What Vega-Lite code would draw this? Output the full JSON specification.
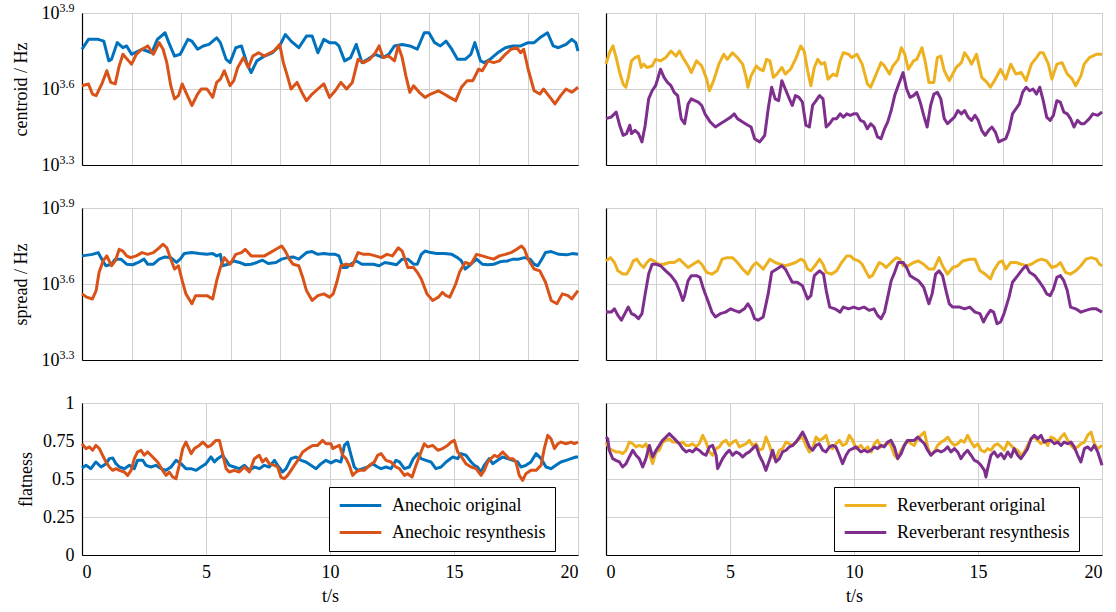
{
"$schema":"https://vega.github.io/schema/vega-lite/v6.json",
"background":"white",
"padding":{"left":11,"top":0,"right":5,"bottom":5},
"columns":2,
"spacing":{"row":43,"column":28},
"bounds":"flush",
"config":{
 "font":"Liberation Serif",
 "view":{"stroke":"#b3b3b3","strokeWidth":1},
 "axis":{"labelFont":"Liberation Serif","titleFont":"Liberation Serif","labelFontSize":18,"titleFontSize":18,"titleFontWeight":"normal","labelColor":"#000","titleColor":"#000","domainColor":"#000","domainWidth":1.2,"gridColor":"#d0d0d0","gridWidth":1,"ticks":false,"labelPadding":8},
 "line":{"strokeWidth":3,"strokeJoin":"round"}
},
"resolve":{"scale":{"color":"independent"},"legend":{"color":"independent"}},
"datasets":{
"cAo":[{"t":0,"v":3.757},{"t":0.26,"v":3.796},{"t":0.65,"v":3.796},{"t":0.88,"v":3.789},{"t":1.08,"v":3.711},{"t":1.19,"v":3.717},{"t":1.42,"v":3.783},{"t":1.65,"v":3.763},{"t":1.8,"v":3.77},{"t":2,"v":3.737},{"t":2.42,"v":3.757},{"t":2.81,"v":3.743},{"t":3.04,"v":3.796},{"t":3.35,"v":3.822},{"t":3.5,"v":3.783},{"t":3.73,"v":3.73},{"t":3.96,"v":3.737},{"t":4.27,"v":3.796},{"t":4.43,"v":3.789},{"t":4.66,"v":3.757},{"t":4.89,"v":3.77},{"t":5.12,"v":3.776},{"t":5.43,"v":3.802},{"t":5.58,"v":3.783},{"t":5.81,"v":3.717},{"t":5.97,"v":3.704},{"t":6.2,"v":3.763},{"t":6.43,"v":3.77},{"t":6.66,"v":3.698},{"t":6.82,"v":3.665},{"t":7.05,"v":3.711},{"t":7.36,"v":3.73},{"t":7.67,"v":3.743},{"t":7.97,"v":3.77},{"t":8.2,"v":3.815},{"t":8.43,"v":3.789},{"t":8.74,"v":3.763},{"t":9.05,"v":3.809},{"t":9.28,"v":3.809},{"t":9.51,"v":3.743},{"t":9.75,"v":3.796},{"t":9.98,"v":3.783},{"t":10.21,"v":3.783},{"t":10.36,"v":3.77},{"t":10.59,"v":3.711},{"t":10.83,"v":3.724},{"t":11.06,"v":3.776},{"t":11.29,"v":3.704},{"t":11.52,"v":3.717},{"t":11.83,"v":3.737},{"t":12.14,"v":3.724},{"t":12.37,"v":3.737},{"t":12.6,"v":3.77},{"t":12.91,"v":3.776},{"t":13.22,"v":3.77},{"t":13.52,"v":3.757},{"t":13.8,"v":3.822},{"t":13.99,"v":3.822},{"t":14.22,"v":3.783},{"t":14.45,"v":3.77},{"t":14.68,"v":3.789},{"t":14.91,"v":3.757},{"t":15.14,"v":3.717},{"t":15.45,"v":3.717},{"t":15.68,"v":3.737},{"t":15.84,"v":3.783},{"t":16.07,"v":3.711},{"t":16.22,"v":3.704},{"t":16.45,"v":3.717},{"t":16.76,"v":3.743},{"t":17.07,"v":3.763},{"t":17.38,"v":3.77},{"t":17.69,"v":3.77},{"t":17.99,"v":3.783},{"t":18.23,"v":3.783},{"t":18.46,"v":3.802},{"t":18.77,"v":3.822},{"t":19,"v":3.77},{"t":19.21,"v":3.763},{"t":19.52,"v":3.776},{"t":19.75,"v":3.796},{"t":19.91,"v":3.783},{"t":20,"v":3.75}],
"cAr":[{"t":0,"v":3.613},{"t":0.26,"v":3.62},{"t":0.42,"v":3.58},{"t":0.57,"v":3.574},{"t":0.8,"v":3.62},{"t":1,"v":3.672},{"t":1.16,"v":3.626},{"t":1.34,"v":3.62},{"t":1.5,"v":3.691},{"t":1.65,"v":3.737},{"t":1.88,"v":3.711},{"t":2,"v":3.698},{"t":2.19,"v":3.737},{"t":2.42,"v":3.757},{"t":2.65,"v":3.77},{"t":2.88,"v":3.737},{"t":3.11,"v":3.783},{"t":3.27,"v":3.757},{"t":3.42,"v":3.704},{"t":3.58,"v":3.613},{"t":3.73,"v":3.561},{"t":3.89,"v":3.574},{"t":4.04,"v":3.62},{"t":4.19,"v":3.587},{"t":4.43,"v":3.535},{"t":4.66,"v":3.58},{"t":4.81,"v":3.6},{"t":5.04,"v":3.6},{"t":5.27,"v":3.567},{"t":5.43,"v":3.626},{"t":5.58,"v":3.639},{"t":5.74,"v":3.672},{"t":5.97,"v":3.613},{"t":6.12,"v":3.633},{"t":6.28,"v":3.685},{"t":6.51,"v":3.724},{"t":6.71,"v":3.685},{"t":6.89,"v":3.73},{"t":7.12,"v":3.743},{"t":7.35,"v":3.73},{"t":7.59,"v":3.743},{"t":7.74,"v":3.75},{"t":7.97,"v":3.776},{"t":8.12,"v":3.704},{"t":8.28,"v":3.652},{"t":8.43,"v":3.6},{"t":8.67,"v":3.626},{"t":8.9,"v":3.58},{"t":9.05,"v":3.554},{"t":9.28,"v":3.58},{"t":9.51,"v":3.6},{"t":9.75,"v":3.62},{"t":9.98,"v":3.567},{"t":10.21,"v":3.593},{"t":10.44,"v":3.626},{"t":10.67,"v":3.6},{"t":10.9,"v":3.626},{"t":11.13,"v":3.717},{"t":11.36,"v":3.704},{"t":11.6,"v":3.717},{"t":11.83,"v":3.743},{"t":11.98,"v":3.77},{"t":12.14,"v":3.724},{"t":12.37,"v":3.73},{"t":12.6,"v":3.711},{"t":12.75,"v":3.77},{"t":12.91,"v":3.724},{"t":13.06,"v":3.652},{"t":13.22,"v":3.587},{"t":13.37,"v":3.613},{"t":13.6,"v":3.587},{"t":13.83,"v":3.567},{"t":14.06,"v":3.58},{"t":14.37,"v":3.593},{"t":14.6,"v":3.58},{"t":14.83,"v":3.567},{"t":15.07,"v":3.554},{"t":15.3,"v":3.607},{"t":15.53,"v":3.633},{"t":15.76,"v":3.633},{"t":15.99,"v":3.678},{"t":16.14,"v":3.672},{"t":16.37,"v":3.711},{"t":16.6,"v":3.704},{"t":16.83,"v":3.711},{"t":17.07,"v":3.737},{"t":17.3,"v":3.757},{"t":17.53,"v":3.763},{"t":17.69,"v":3.743},{"t":17.81,"v":3.757},{"t":17.99,"v":3.678},{"t":18.23,"v":3.593},{"t":18.46,"v":3.58},{"t":18.61,"v":3.6},{"t":18.77,"v":3.58},{"t":18.92,"v":3.561},{"t":19.07,"v":3.541},{"t":19.3,"v":3.574},{"t":19.52,"v":3.6},{"t":19.75,"v":3.587},{"t":20,"v":3.607}],
"cRo":[{"t":0,"v":3.698},{"t":0.14,"v":3.743},{"t":0.28,"v":3.77},{"t":0.41,"v":3.724},{"t":0.55,"v":3.665},{"t":0.69,"v":3.62},{"t":0.8,"v":3.607},{"t":0.9,"v":3.646},{"t":1.03,"v":3.711},{"t":1.17,"v":3.724},{"t":1.31,"v":3.73},{"t":1.42,"v":3.685},{"t":1.52,"v":3.698},{"t":1.65,"v":3.685},{"t":1.86,"v":3.691},{"t":2,"v":3.717},{"t":2.2,"v":3.711},{"t":2.41,"v":3.724},{"t":2.62,"v":3.75},{"t":2.82,"v":3.73},{"t":2.96,"v":3.75},{"t":3.1,"v":3.724},{"t":3.31,"v":3.691},{"t":3.44,"v":3.665},{"t":3.65,"v":3.711},{"t":3.86,"v":3.691},{"t":4.06,"v":3.639},{"t":4.17,"v":3.593},{"t":4.34,"v":3.633},{"t":4.55,"v":3.698},{"t":4.75,"v":3.737},{"t":4.89,"v":3.717},{"t":5.1,"v":3.743},{"t":5.3,"v":3.724},{"t":5.51,"v":3.698},{"t":5.65,"v":3.646},{"t":5.72,"v":3.607},{"t":5.85,"v":3.652},{"t":6.06,"v":3.691},{"t":6.2,"v":3.678},{"t":6.34,"v":3.672},{"t":6.47,"v":3.717},{"t":6.61,"v":3.711},{"t":6.75,"v":3.646},{"t":6.89,"v":3.659},{"t":7.09,"v":3.685},{"t":7.23,"v":3.659},{"t":7.44,"v":3.678},{"t":7.64,"v":3.717},{"t":7.85,"v":3.77},{"t":7.99,"v":3.75},{"t":8.13,"v":3.672},{"t":8.26,"v":3.613},{"t":8.4,"v":3.685},{"t":8.54,"v":3.717},{"t":8.68,"v":3.698},{"t":8.82,"v":3.704},{"t":8.95,"v":3.639},{"t":9.16,"v":3.659},{"t":9.3,"v":3.652},{"t":9.44,"v":3.711},{"t":9.57,"v":3.743},{"t":9.78,"v":3.737},{"t":9.92,"v":3.724},{"t":10.12,"v":3.737},{"t":10.33,"v":3.698},{"t":10.54,"v":3.62},{"t":10.67,"v":3.607},{"t":10.81,"v":3.639},{"t":10.95,"v":3.672},{"t":11.09,"v":3.704},{"t":11.23,"v":3.691},{"t":11.43,"v":3.659},{"t":11.57,"v":3.691},{"t":11.78,"v":3.717},{"t":11.91,"v":3.763},{"t":12.05,"v":3.737},{"t":12.19,"v":3.678},{"t":12.4,"v":3.711},{"t":12.53,"v":3.717},{"t":12.74,"v":3.763},{"t":12.88,"v":3.704},{"t":13.02,"v":3.626},{"t":13.22,"v":3.626},{"t":13.36,"v":3.724},{"t":13.5,"v":3.73},{"t":13.64,"v":3.672},{"t":13.84,"v":3.633},{"t":13.98,"v":3.659},{"t":14.12,"v":3.685},{"t":14.33,"v":3.704},{"t":14.46,"v":3.743},{"t":14.6,"v":3.724},{"t":14.74,"v":3.698},{"t":14.94,"v":3.737},{"t":15.15,"v":3.646},{"t":15.36,"v":3.626},{"t":15.5,"v":3.607},{"t":15.7,"v":3.639},{"t":15.91,"v":3.678},{"t":16.12,"v":3.639},{"t":16.32,"v":3.698},{"t":16.53,"v":3.659},{"t":16.74,"v":3.665},{"t":16.94,"v":3.633},{"t":17.15,"v":3.698},{"t":17.36,"v":3.724},{"t":17.49,"v":3.743},{"t":17.63,"v":3.743},{"t":17.84,"v":3.698},{"t":17.98,"v":3.639},{"t":18.18,"v":3.698},{"t":18.39,"v":3.704},{"t":18.6,"v":3.659},{"t":18.8,"v":3.639},{"t":18.94,"v":3.613},{"t":19.15,"v":3.652},{"t":19.28,"v":3.698},{"t":19.49,"v":3.724},{"t":19.77,"v":3.737},{"t":20,"v":3.737}],
"cRr":[{"t":0,"v":3.483},{"t":0.21,"v":3.489},{"t":0.41,"v":3.509},{"t":0.55,"v":3.457},{"t":0.69,"v":3.417},{"t":0.83,"v":3.424},{"t":0.96,"v":3.457},{"t":1.03,"v":3.424},{"t":1.17,"v":3.437},{"t":1.31,"v":3.424},{"t":1.45,"v":3.391},{"t":1.58,"v":3.457},{"t":1.72,"v":3.561},{"t":1.86,"v":3.593},{"t":2,"v":3.613},{"t":2.2,"v":3.678},{"t":2.34,"v":3.646},{"t":2.48,"v":3.626},{"t":2.62,"v":3.613},{"t":2.75,"v":3.587},{"t":2.89,"v":3.574},{"t":3.03,"v":3.483},{"t":3.17,"v":3.463},{"t":3.31,"v":3.541},{"t":3.44,"v":3.561},{"t":3.58,"v":3.554},{"t":3.72,"v":3.548},{"t":3.86,"v":3.535},{"t":3.99,"v":3.502},{"t":4.2,"v":3.47},{"t":4.41,"v":3.45},{"t":4.61,"v":3.463},{"t":4.82,"v":3.476},{"t":5.03,"v":3.489},{"t":5.17,"v":3.502},{"t":5.3,"v":3.483},{"t":5.51,"v":3.47},{"t":5.72,"v":3.457},{"t":5.85,"v":3.45},{"t":5.99,"v":3.404},{"t":6.2,"v":3.391},{"t":6.4,"v":3.417},{"t":6.54,"v":3.522},{"t":6.68,"v":3.607},{"t":6.82,"v":3.561},{"t":6.96,"v":3.554},{"t":7.09,"v":3.633},{"t":7.23,"v":3.6},{"t":7.37,"v":3.567},{"t":7.51,"v":3.535},{"t":7.64,"v":3.574},{"t":7.78,"v":3.567},{"t":7.92,"v":3.548},{"t":8.06,"v":3.457},{"t":8.2,"v":3.45},{"t":8.33,"v":3.535},{"t":8.47,"v":3.554},{"t":8.61,"v":3.574},{"t":8.75,"v":3.561},{"t":8.88,"v":3.45},{"t":9.02,"v":3.463},{"t":9.16,"v":3.483},{"t":9.3,"v":3.483},{"t":9.44,"v":3.502},{"t":9.57,"v":3.489},{"t":9.71,"v":3.502},{"t":9.85,"v":3.496},{"t":9.99,"v":3.502},{"t":10.12,"v":3.502},{"t":10.26,"v":3.476},{"t":10.4,"v":3.47},{"t":10.54,"v":3.443},{"t":10.67,"v":3.463},{"t":10.81,"v":3.45},{"t":10.95,"v":3.411},{"t":11.09,"v":3.404},{"t":11.23,"v":3.443},{"t":11.36,"v":3.47},{"t":11.5,"v":3.515},{"t":11.64,"v":3.574},{"t":11.78,"v":3.613},{"t":11.98,"v":3.665},{"t":12.12,"v":3.6},{"t":12.26,"v":3.567},{"t":12.4,"v":3.574},{"t":12.53,"v":3.587},{"t":12.67,"v":3.548},{"t":12.81,"v":3.496},{"t":12.95,"v":3.45},{"t":13.09,"v":3.535},{"t":13.22,"v":3.58},{"t":13.36,"v":3.587},{"t":13.5,"v":3.561},{"t":13.64,"v":3.483},{"t":13.77,"v":3.463},{"t":13.91,"v":3.476},{"t":14.05,"v":3.489},{"t":14.19,"v":3.515},{"t":14.33,"v":3.502},{"t":14.46,"v":3.515},{"t":14.6,"v":3.489},{"t":14.74,"v":3.476},{"t":14.88,"v":3.496},{"t":15.01,"v":3.476},{"t":15.15,"v":3.437},{"t":15.29,"v":3.417},{"t":15.43,"v":3.437},{"t":15.56,"v":3.45},{"t":15.7,"v":3.43},{"t":15.84,"v":3.391},{"t":15.98,"v":3.398},{"t":16.12,"v":3.404},{"t":16.25,"v":3.437},{"t":16.39,"v":3.502},{"t":16.53,"v":3.522},{"t":16.67,"v":3.541},{"t":16.8,"v":3.587},{"t":16.94,"v":3.607},{"t":17.08,"v":3.593},{"t":17.22,"v":3.6},{"t":17.36,"v":3.58},{"t":17.49,"v":3.607},{"t":17.63,"v":3.554},{"t":17.77,"v":3.489},{"t":17.91,"v":3.476},{"t":18.04,"v":3.496},{"t":18.18,"v":3.554},{"t":18.32,"v":3.548},{"t":18.46,"v":3.509},{"t":18.6,"v":3.502},{"t":18.73,"v":3.483},{"t":18.87,"v":3.45},{"t":19.01,"v":3.476},{"t":19.15,"v":3.463},{"t":19.28,"v":3.463},{"t":19.49,"v":3.483},{"t":19.63,"v":3.502},{"t":19.83,"v":3.496},{"t":20,"v":3.509}],
"sAo":[{"t":0,"v":3.711},{"t":0.42,"v":3.717},{"t":0.65,"v":3.724},{"t":0.8,"v":3.698},{"t":0.96,"v":3.672},{"t":1.19,"v":3.678},{"t":1.34,"v":3.698},{"t":1.57,"v":3.698},{"t":1.8,"v":3.678},{"t":2.04,"v":3.676},{"t":2.27,"v":3.685},{"t":2.5,"v":3.698},{"t":2.65,"v":3.678},{"t":2.88,"v":3.678},{"t":3.11,"v":3.698},{"t":3.35,"v":3.707},{"t":3.58,"v":3.704},{"t":3.81,"v":3.685},{"t":3.96,"v":3.698},{"t":4.12,"v":3.72},{"t":4.43,"v":3.724},{"t":4.73,"v":3.72},{"t":5.04,"v":3.717},{"t":5.27,"v":3.72},{"t":5.43,"v":3.711},{"t":5.58,"v":3.717},{"t":5.66,"v":3.672},{"t":5.89,"v":3.678},{"t":6.12,"v":3.691},{"t":6.35,"v":3.685},{"t":6.58,"v":3.676},{"t":6.82,"v":3.678},{"t":7.05,"v":3.685},{"t":7.28,"v":3.694},{"t":7.51,"v":3.681},{"t":7.82,"v":3.685},{"t":8.05,"v":3.698},{"t":8.28,"v":3.704},{"t":8.51,"v":3.707},{"t":8.74,"v":3.698},{"t":9.05,"v":3.724},{"t":9.28,"v":3.728},{"t":9.51,"v":3.717},{"t":9.75,"v":3.72},{"t":9.98,"v":3.717},{"t":10.21,"v":3.717},{"t":10.36,"v":3.711},{"t":10.52,"v":3.665},{"t":10.67,"v":3.665},{"t":10.83,"v":3.678},{"t":11.06,"v":3.691},{"t":11.29,"v":3.678},{"t":11.52,"v":3.678},{"t":11.75,"v":3.678},{"t":11.98,"v":3.672},{"t":12.21,"v":3.685},{"t":12.44,"v":3.681},{"t":12.68,"v":3.676},{"t":12.91,"v":3.698},{"t":13.14,"v":3.698},{"t":13.37,"v":3.678},{"t":13.52,"v":3.678},{"t":13.68,"v":3.717},{"t":13.83,"v":3.73},{"t":14.06,"v":3.724},{"t":14.3,"v":3.72},{"t":14.6,"v":3.72},{"t":14.91,"v":3.717},{"t":15.14,"v":3.704},{"t":15.3,"v":3.691},{"t":15.45,"v":3.659},{"t":15.68,"v":3.678},{"t":15.91,"v":3.698},{"t":16.14,"v":3.678},{"t":16.37,"v":3.676},{"t":16.6,"v":3.678},{"t":16.91,"v":3.689},{"t":17.15,"v":3.691},{"t":17.38,"v":3.698},{"t":17.61,"v":3.698},{"t":17.84,"v":3.704},{"t":18.07,"v":3.698},{"t":18.23,"v":3.678},{"t":18.38,"v":3.672},{"t":18.54,"v":3.698},{"t":18.69,"v":3.724},{"t":18.92,"v":3.728},{"t":19.23,"v":3.717},{"t":19.54,"v":3.715},{"t":19.77,"v":3.72},{"t":20,"v":3.717}],
"sAr":[{"t":0,"v":3.561},{"t":0.19,"v":3.548},{"t":0.42,"v":3.541},{"t":0.57,"v":3.574},{"t":0.69,"v":3.646},{"t":0.85,"v":3.691},{"t":1,"v":3.711},{"t":1.19,"v":3.672},{"t":1.34,"v":3.691},{"t":1.5,"v":3.737},{"t":1.65,"v":3.73},{"t":1.8,"v":3.711},{"t":1.96,"v":3.704},{"t":2.19,"v":3.711},{"t":2.42,"v":3.724},{"t":2.65,"v":3.717},{"t":2.88,"v":3.724},{"t":3.11,"v":3.743},{"t":3.27,"v":3.757},{"t":3.42,"v":3.743},{"t":3.58,"v":3.698},{"t":3.73,"v":3.659},{"t":3.89,"v":3.672},{"t":4.04,"v":3.613},{"t":4.19,"v":3.561},{"t":4.43,"v":3.522},{"t":4.58,"v":3.554},{"t":4.81,"v":3.554},{"t":5.04,"v":3.554},{"t":5.27,"v":3.541},{"t":5.43,"v":3.613},{"t":5.58,"v":3.665},{"t":5.74,"v":3.704},{"t":5.97,"v":3.678},{"t":6.2,"v":3.717},{"t":6.43,"v":3.724},{"t":6.58,"v":3.737},{"t":6.82,"v":3.711},{"t":7.05,"v":3.711},{"t":7.36,"v":3.711},{"t":7.59,"v":3.724},{"t":7.82,"v":3.737},{"t":8.05,"v":3.75},{"t":8.2,"v":3.73},{"t":8.36,"v":3.698},{"t":8.51,"v":3.678},{"t":8.74,"v":3.672},{"t":8.9,"v":3.626},{"t":9.05,"v":3.574},{"t":9.28,"v":3.535},{"t":9.51,"v":3.554},{"t":9.75,"v":3.561},{"t":9.98,"v":3.548},{"t":10.13,"v":3.561},{"t":10.29,"v":3.613},{"t":10.44,"v":3.672},{"t":10.67,"v":3.678},{"t":10.9,"v":3.672},{"t":11.13,"v":3.724},{"t":11.36,"v":3.717},{"t":11.6,"v":3.717},{"t":11.83,"v":3.711},{"t":12.06,"v":3.704},{"t":12.29,"v":3.717},{"t":12.52,"v":3.711},{"t":12.75,"v":3.743},{"t":12.91,"v":3.73},{"t":13.14,"v":3.665},{"t":13.37,"v":3.665},{"t":13.52,"v":3.646},{"t":13.68,"v":3.62},{"t":13.91,"v":3.561},{"t":14.14,"v":3.535},{"t":14.37,"v":3.548},{"t":14.53,"v":3.567},{"t":14.68,"v":3.554},{"t":14.83,"v":3.548},{"t":15.07,"v":3.6},{"t":15.22,"v":3.646},{"t":15.45,"v":3.685},{"t":15.68,"v":3.678},{"t":15.91,"v":3.717},{"t":16.14,"v":3.711},{"t":16.37,"v":3.704},{"t":16.6,"v":3.698},{"t":16.83,"v":3.711},{"t":17.07,"v":3.717},{"t":17.3,"v":3.724},{"t":17.53,"v":3.737},{"t":17.72,"v":3.75},{"t":17.84,"v":3.737},{"t":17.99,"v":3.698},{"t":18.23,"v":3.659},{"t":18.46,"v":3.652},{"t":18.69,"v":3.607},{"t":18.92,"v":3.535},{"t":19.15,"v":3.522},{"t":19.37,"v":3.561},{"t":19.6,"v":3.554},{"t":19.75,"v":3.541},{"t":20,"v":3.574}],
"sRo":[{"t":0,"v":3.691},{"t":0.18,"v":3.704},{"t":0.34,"v":3.685},{"t":0.48,"v":3.652},{"t":0.69,"v":3.639},{"t":0.83,"v":3.639},{"t":0.96,"v":3.659},{"t":1.1,"v":3.691},{"t":1.24,"v":3.698},{"t":1.38,"v":3.678},{"t":1.52,"v":3.665},{"t":1.65,"v":3.685},{"t":1.79,"v":3.698},{"t":1.93,"v":3.691},{"t":2.13,"v":3.678},{"t":2.34,"v":3.678},{"t":2.55,"v":3.685},{"t":2.75,"v":3.685},{"t":2.96,"v":3.698},{"t":3.1,"v":3.685},{"t":3.31,"v":3.665},{"t":3.51,"v":3.678},{"t":3.72,"v":3.691},{"t":3.86,"v":3.678},{"t":4.06,"v":3.646},{"t":4.27,"v":3.639},{"t":4.48,"v":3.652},{"t":4.68,"v":3.698},{"t":4.89,"v":3.704},{"t":5.1,"v":3.704},{"t":5.3,"v":3.685},{"t":5.51,"v":3.659},{"t":5.72,"v":3.639},{"t":5.92,"v":3.672},{"t":6.06,"v":3.685},{"t":6.2,"v":3.672},{"t":6.34,"v":3.659},{"t":6.47,"v":3.678},{"t":6.61,"v":3.698},{"t":6.82,"v":3.685},{"t":7.02,"v":3.678},{"t":7.23,"v":3.672},{"t":7.44,"v":3.678},{"t":7.64,"v":3.685},{"t":7.85,"v":3.698},{"t":7.99,"v":3.691},{"t":8.13,"v":3.659},{"t":8.26,"v":3.652},{"t":8.47,"v":3.678},{"t":8.61,"v":3.698},{"t":8.75,"v":3.678},{"t":8.88,"v":3.646},{"t":9.09,"v":3.639},{"t":9.3,"v":3.652},{"t":9.5,"v":3.685},{"t":9.71,"v":3.711},{"t":9.85,"v":3.711},{"t":9.99,"v":3.698},{"t":10.19,"v":3.691},{"t":10.33,"v":3.678},{"t":10.47,"v":3.652},{"t":10.61,"v":3.626},{"t":10.74,"v":3.633},{"t":10.88,"v":3.659},{"t":11.02,"v":3.685},{"t":11.16,"v":3.678},{"t":11.29,"v":3.665},{"t":11.5,"v":3.685},{"t":11.71,"v":3.704},{"t":11.85,"v":3.698},{"t":11.98,"v":3.672},{"t":12.19,"v":3.672},{"t":12.4,"v":3.685},{"t":12.6,"v":3.691},{"t":12.81,"v":3.678},{"t":13.02,"v":3.659},{"t":13.22,"v":3.659},{"t":13.43,"v":3.704},{"t":13.57,"v":3.672},{"t":13.77,"v":3.639},{"t":13.98,"v":3.665},{"t":14.19,"v":3.672},{"t":14.39,"v":3.691},{"t":14.67,"v":3.698},{"t":14.88,"v":3.698},{"t":15.08,"v":3.652},{"t":15.29,"v":3.639},{"t":15.5,"v":3.62},{"t":15.63,"v":3.652},{"t":15.84,"v":3.685},{"t":15.98,"v":3.691},{"t":16.12,"v":3.659},{"t":16.32,"v":3.685},{"t":16.53,"v":3.685},{"t":16.74,"v":3.678},{"t":16.94,"v":3.672},{"t":17.15,"v":3.678},{"t":17.36,"v":3.691},{"t":17.56,"v":3.698},{"t":17.77,"v":3.691},{"t":17.98,"v":3.665},{"t":18.18,"v":3.672},{"t":18.32,"v":3.685},{"t":18.53,"v":3.646},{"t":18.73,"v":3.639},{"t":18.94,"v":3.652},{"t":19.15,"v":3.672},{"t":19.35,"v":3.698},{"t":19.56,"v":3.704},{"t":19.77,"v":3.698},{"t":19.9,"v":3.678},{"t":20,"v":3.672}],
"sRr":[{"t":0,"v":3.489},{"t":0.21,"v":3.489},{"t":0.34,"v":3.502},{"t":0.48,"v":3.476},{"t":0.62,"v":3.457},{"t":0.76,"v":3.483},{"t":0.9,"v":3.509},{"t":1.03,"v":3.483},{"t":1.17,"v":3.476},{"t":1.31,"v":3.463},{"t":1.45,"v":3.483},{"t":1.58,"v":3.561},{"t":1.72,"v":3.639},{"t":1.86,"v":3.678},{"t":2.02,"v":3.678},{"t":2.2,"v":3.672},{"t":2.41,"v":3.652},{"t":2.62,"v":3.633},{"t":2.82,"v":3.607},{"t":2.96,"v":3.574},{"t":3.1,"v":3.535},{"t":3.17,"v":3.554},{"t":3.31,"v":3.613},{"t":3.44,"v":3.633},{"t":3.65,"v":3.633},{"t":3.79,"v":3.626},{"t":3.93,"v":3.58},{"t":4.13,"v":3.528},{"t":4.27,"v":3.489},{"t":4.41,"v":3.47},{"t":4.61,"v":3.483},{"t":4.82,"v":3.489},{"t":5.03,"v":3.502},{"t":5.17,"v":3.496},{"t":5.37,"v":3.489},{"t":5.58,"v":3.502},{"t":5.72,"v":3.522},{"t":5.85,"v":3.502},{"t":5.99,"v":3.463},{"t":6.13,"v":3.457},{"t":6.34,"v":3.47},{"t":6.54,"v":3.561},{"t":6.68,"v":3.646},{"t":6.89,"v":3.659},{"t":7.09,"v":3.672},{"t":7.23,"v":3.659},{"t":7.37,"v":3.633},{"t":7.51,"v":3.607},{"t":7.71,"v":3.607},{"t":7.92,"v":3.593},{"t":8.13,"v":3.541},{"t":8.26,"v":3.554},{"t":8.4,"v":3.633},{"t":8.61,"v":3.652},{"t":8.77,"v":3.639},{"t":8.88,"v":3.574},{"t":9.02,"v":3.509},{"t":9.23,"v":3.502},{"t":9.44,"v":3.489},{"t":9.57,"v":3.509},{"t":9.78,"v":3.502},{"t":9.99,"v":3.509},{"t":10.19,"v":3.502},{"t":10.4,"v":3.509},{"t":10.61,"v":3.496},{"t":10.81,"v":3.502},{"t":10.95,"v":3.476},{"t":11.09,"v":3.463},{"t":11.23,"v":3.489},{"t":11.36,"v":3.548},{"t":11.5,"v":3.613},{"t":11.64,"v":3.646},{"t":11.78,"v":3.685},{"t":11.98,"v":3.685},{"t":12.12,"v":3.665},{"t":12.26,"v":3.633},{"t":12.47,"v":3.62},{"t":12.6,"v":3.613},{"t":12.81,"v":3.587},{"t":13.02,"v":3.522},{"t":13.15,"v":3.561},{"t":13.29,"v":3.639},{"t":13.43,"v":3.652},{"t":13.57,"v":3.633},{"t":13.71,"v":3.574},{"t":13.84,"v":3.522},{"t":13.98,"v":3.509},{"t":14.26,"v":3.509},{"t":14.46,"v":3.502},{"t":14.67,"v":3.509},{"t":14.88,"v":3.489},{"t":15.08,"v":3.483},{"t":15.22,"v":3.45},{"t":15.36,"v":3.476},{"t":15.5,"v":3.496},{"t":15.63,"v":3.489},{"t":15.77,"v":3.443},{"t":15.91,"v":3.45},{"t":16.05,"v":3.483},{"t":16.25,"v":3.548},{"t":16.39,"v":3.607},{"t":16.6,"v":3.633},{"t":16.8,"v":3.659},{"t":16.94,"v":3.672},{"t":17.08,"v":3.646},{"t":17.29,"v":3.633},{"t":17.49,"v":3.607},{"t":17.63,"v":3.587},{"t":17.77,"v":3.561},{"t":17.91,"v":3.554},{"t":18.04,"v":3.58},{"t":18.18,"v":3.626},{"t":18.32,"v":3.633},{"t":18.46,"v":3.613},{"t":18.6,"v":3.574},{"t":18.73,"v":3.509},{"t":18.94,"v":3.502},{"t":19.15,"v":3.489},{"t":19.35,"v":3.496},{"t":19.56,"v":3.502},{"t":19.77,"v":3.502},{"t":20,"v":3.489}],
"fAo":[{"t":0,"v":0.572},{"t":0.16,"v":0.59},{"t":0.36,"v":0.568},{"t":0.56,"v":0.612},{"t":0.77,"v":0.579},{"t":0.97,"v":0.601},{"t":1.1,"v":0.634},{"t":1.24,"v":0.638},{"t":1.37,"v":0.601},{"t":1.51,"v":0.579},{"t":1.71,"v":0.568},{"t":1.91,"v":0.59},{"t":2.11,"v":0.568},{"t":2.24,"v":0.623},{"t":2.45,"v":0.623},{"t":2.58,"v":0.59},{"t":2.78,"v":0.579},{"t":2.98,"v":0.59},{"t":3.19,"v":0.568},{"t":3.39,"v":0.557},{"t":3.59,"v":0.579},{"t":3.79,"v":0.623},{"t":3.99,"v":0.601},{"t":4.19,"v":0.568},{"t":4.4,"v":0.568},{"t":4.6,"v":0.557},{"t":4.8,"v":0.579},{"t":5,"v":0.601},{"t":5.2,"v":0.645},{"t":5.34,"v":0.612},{"t":5.47,"v":0.634},{"t":5.67,"v":0.656},{"t":5.81,"v":0.623},{"t":5.94,"v":0.59},{"t":6.14,"v":0.579},{"t":6.34,"v":0.568},{"t":6.55,"v":0.59},{"t":6.75,"v":0.557},{"t":6.95,"v":0.579},{"t":7.15,"v":0.568},{"t":7.35,"v":0.59},{"t":7.55,"v":0.579},{"t":7.76,"v":0.623},{"t":7.89,"v":0.59},{"t":8.09,"v":0.546},{"t":8.23,"v":0.568},{"t":8.43,"v":0.634},{"t":8.63,"v":0.645},{"t":8.83,"v":0.623},{"t":9.03,"v":0.612},{"t":9.23,"v":0.59},{"t":9.44,"v":0.568},{"t":9.64,"v":0.601},{"t":9.84,"v":0.623},{"t":10.04,"v":0.606},{"t":10.24,"v":0.623},{"t":10.44,"v":0.612},{"t":10.58,"v":0.721},{"t":10.71,"v":0.743},{"t":10.85,"v":0.656},{"t":10.98,"v":0.579},{"t":11.12,"v":0.557},{"t":11.32,"v":0.568},{"t":11.52,"v":0.579},{"t":11.72,"v":0.601},{"t":11.92,"v":0.579},{"t":12.06,"v":0.568},{"t":12.26,"v":0.579},{"t":12.46,"v":0.568},{"t":12.66,"v":0.623},{"t":12.8,"v":0.612},{"t":13,"v":0.568},{"t":13.2,"v":0.579},{"t":13.36,"v":0.634},{"t":13.54,"v":0.667},{"t":13.67,"v":0.634},{"t":13.87,"v":0.623},{"t":14.07,"v":0.612},{"t":14.27,"v":0.568},{"t":14.48,"v":0.579},{"t":14.68,"v":0.612},{"t":14.95,"v":0.645},{"t":15.15,"v":0.634},{"t":15.28,"v":0.667},{"t":15.48,"v":0.656},{"t":15.69,"v":0.612},{"t":15.82,"v":0.59},{"t":15.95,"v":0.579},{"t":16.09,"v":0.546},{"t":16.22,"v":0.59},{"t":16.42,"v":0.634},{"t":16.56,"v":0.601},{"t":16.76,"v":0.623},{"t":16.96,"v":0.645},{"t":17.16,"v":0.634},{"t":17.37,"v":0.623},{"t":17.57,"v":0.612},{"t":17.7,"v":0.579},{"t":17.9,"v":0.59},{"t":18.1,"v":0.612},{"t":18.31,"v":0.667},{"t":18.51,"v":0.634},{"t":18.71,"v":0.579},{"t":18.91,"v":0.568},{"t":19.11,"v":0.59},{"t":19.31,"v":0.612},{"t":19.52,"v":0.623},{"t":19.72,"v":0.634},{"t":19.92,"v":0.645},{"t":20,"v":0.645}],
"fAr":[{"t":0,"v":0.732},{"t":0.16,"v":0.7},{"t":0.3,"v":0.711},{"t":0.43,"v":0.689},{"t":0.56,"v":0.721},{"t":0.7,"v":0.7},{"t":0.83,"v":0.656},{"t":0.97,"v":0.612},{"t":1.1,"v":0.579},{"t":1.24,"v":0.557},{"t":1.37,"v":0.568},{"t":1.51,"v":0.557},{"t":1.71,"v":0.546},{"t":1.84,"v":0.524},{"t":1.98,"v":0.557},{"t":2.11,"v":0.634},{"t":2.24,"v":0.678},{"t":2.38,"v":0.689},{"t":2.51,"v":0.656},{"t":2.65,"v":0.678},{"t":2.85,"v":0.645},{"t":3.05,"v":0.612},{"t":3.25,"v":0.557},{"t":3.39,"v":0.524},{"t":3.52,"v":0.546},{"t":3.66,"v":0.513},{"t":3.79,"v":0.502},{"t":3.92,"v":0.59},{"t":4.06,"v":0.7},{"t":4.19,"v":0.743},{"t":4.4,"v":0.667},{"t":4.53,"v":0.7},{"t":4.73,"v":0.721},{"t":4.87,"v":0.743},{"t":5.07,"v":0.711},{"t":5.2,"v":0.721},{"t":5.4,"v":0.754},{"t":5.54,"v":0.754},{"t":5.67,"v":0.667},{"t":5.81,"v":0.568},{"t":5.94,"v":0.546},{"t":6.14,"v":0.557},{"t":6.34,"v":0.546},{"t":6.55,"v":0.579},{"t":6.75,"v":0.546},{"t":6.95,"v":0.634},{"t":7.15,"v":0.656},{"t":7.28,"v":0.612},{"t":7.42,"v":0.634},{"t":7.55,"v":0.601},{"t":7.76,"v":0.59},{"t":7.89,"v":0.579},{"t":8.02,"v":0.513},{"t":8.16,"v":0.502},{"t":8.29,"v":0.524},{"t":8.43,"v":0.557},{"t":8.56,"v":0.59},{"t":8.7,"v":0.623},{"t":8.9,"v":0.678},{"t":9.1,"v":0.7},{"t":9.3,"v":0.721},{"t":9.5,"v":0.721},{"t":9.7,"v":0.754},{"t":9.84,"v":0.732},{"t":10.04,"v":0.732},{"t":10.11,"v":0.7},{"t":10.24,"v":0.711},{"t":10.38,"v":0.721},{"t":10.51,"v":0.656},{"t":10.65,"v":0.634},{"t":10.78,"v":0.59},{"t":10.91,"v":0.524},{"t":11.05,"v":0.546},{"t":11.18,"v":0.557},{"t":11.38,"v":0.557},{"t":11.59,"v":0.59},{"t":11.79,"v":0.612},{"t":11.92,"v":0.656},{"t":12.06,"v":0.667},{"t":12.26,"v":0.623},{"t":12.46,"v":0.612},{"t":12.66,"v":0.579},{"t":12.8,"v":0.568},{"t":13,"v":0.524},{"t":13.13,"v":0.535},{"t":13.31,"v":0.513},{"t":13.47,"v":0.59},{"t":13.67,"v":0.678},{"t":13.8,"v":0.732},{"t":13.94,"v":0.711},{"t":14.14,"v":0.721},{"t":14.35,"v":0.689},{"t":14.54,"v":0.7},{"t":14.74,"v":0.721},{"t":14.88,"v":0.743},{"t":15.01,"v":0.754},{"t":15.15,"v":0.678},{"t":15.35,"v":0.634},{"t":15.48,"v":0.601},{"t":15.69,"v":0.579},{"t":15.89,"v":0.568},{"t":16.09,"v":0.524},{"t":16.22,"v":0.557},{"t":16.36,"v":0.612},{"t":16.49,"v":0.634},{"t":16.63,"v":0.656},{"t":16.76,"v":0.645},{"t":16.96,"v":0.678},{"t":17.1,"v":0.656},{"t":17.23,"v":0.634},{"t":17.37,"v":0.634},{"t":17.5,"v":0.612},{"t":17.63,"v":0.524},{"t":17.77,"v":0.491},{"t":17.9,"v":0.535},{"t":18.1,"v":0.557},{"t":18.31,"v":0.557},{"t":18.51,"v":0.59},{"t":18.64,"v":0.7},{"t":18.78,"v":0.787},{"t":18.91,"v":0.765},{"t":19.05,"v":0.7},{"t":19.19,"v":0.732},{"t":19.31,"v":0.743},{"t":19.52,"v":0.732},{"t":19.72,"v":0.743},{"t":19.85,"v":0.732},{"t":20,"v":0.743}],
"fRo":[{"t":0,"v":0.743},{"t":0.13,"v":0.7},{"t":0.27,"v":0.689},{"t":0.4,"v":0.678},{"t":0.54,"v":0.678},{"t":0.67,"v":0.667},{"t":0.81,"v":0.689},{"t":0.94,"v":0.743},{"t":1.08,"v":0.732},{"t":1.21,"v":0.711},{"t":1.34,"v":0.721},{"t":1.48,"v":0.711},{"t":1.61,"v":0.732},{"t":1.75,"v":0.667},{"t":1.88,"v":0.601},{"t":2.02,"v":0.678},{"t":2.15,"v":0.689},{"t":2.28,"v":0.743},{"t":2.42,"v":0.754},{"t":2.55,"v":0.765},{"t":2.69,"v":0.743},{"t":2.82,"v":0.743},{"t":2.96,"v":0.732},{"t":3.09,"v":0.743},{"t":3.23,"v":0.721},{"t":3.36,"v":0.721},{"t":3.49,"v":0.732},{"t":3.63,"v":0.711},{"t":3.76,"v":0.732},{"t":3.9,"v":0.787},{"t":4.03,"v":0.743},{"t":4.17,"v":0.678},{"t":4.3,"v":0.656},{"t":4.44,"v":0.7},{"t":4.57,"v":0.711},{"t":4.7,"v":0.743},{"t":4.84,"v":0.754},{"t":4.97,"v":0.721},{"t":5.11,"v":0.743},{"t":5.24,"v":0.754},{"t":5.38,"v":0.711},{"t":5.51,"v":0.721},{"t":5.65,"v":0.732},{"t":5.78,"v":0.754},{"t":5.91,"v":0.721},{"t":6.05,"v":0.732},{"t":6.18,"v":0.689},{"t":6.32,"v":0.7},{"t":6.45,"v":0.776},{"t":6.59,"v":0.721},{"t":6.72,"v":0.645},{"t":6.85,"v":0.634},{"t":6.99,"v":0.689},{"t":7.12,"v":0.7},{"t":7.26,"v":0.743},{"t":7.39,"v":0.732},{"t":7.53,"v":0.721},{"t":7.66,"v":0.743},{"t":7.8,"v":0.765},{"t":7.93,"v":0.776},{"t":8.06,"v":0.721},{"t":8.2,"v":0.678},{"t":8.33,"v":0.7},{"t":8.47,"v":0.776},{"t":8.6,"v":0.754},{"t":8.74,"v":0.765},{"t":8.87,"v":0.787},{"t":9.01,"v":0.711},{"t":9.14,"v":0.7},{"t":9.27,"v":0.732},{"t":9.41,"v":0.754},{"t":9.54,"v":0.721},{"t":9.68,"v":0.732},{"t":9.81,"v":0.787},{"t":9.95,"v":0.754},{"t":10.08,"v":0.7},{"t":10.28,"v":0.721},{"t":10.42,"v":0.689},{"t":10.55,"v":0.711},{"t":10.69,"v":0.678},{"t":10.82,"v":0.732},{"t":10.95,"v":0.754},{"t":11.09,"v":0.711},{"t":11.22,"v":0.721},{"t":11.36,"v":0.743},{"t":11.49,"v":0.721},{"t":11.63,"v":0.656},{"t":11.76,"v":0.634},{"t":11.9,"v":0.689},{"t":12.03,"v":0.721},{"t":12.16,"v":0.754},{"t":12.3,"v":0.732},{"t":12.43,"v":0.721},{"t":12.57,"v":0.765},{"t":12.7,"v":0.787},{"t":12.84,"v":0.809},{"t":12.97,"v":0.711},{"t":13.1,"v":0.656},{"t":13.24,"v":0.678},{"t":13.37,"v":0.721},{"t":13.51,"v":0.743},{"t":13.64,"v":0.754},{"t":13.78,"v":0.776},{"t":13.91,"v":0.743},{"t":14.05,"v":0.721},{"t":14.18,"v":0.732},{"t":14.31,"v":0.754},{"t":14.45,"v":0.743},{"t":14.58,"v":0.787},{"t":14.72,"v":0.743},{"t":14.85,"v":0.711},{"t":14.99,"v":0.732},{"t":15.12,"v":0.689},{"t":15.26,"v":0.678},{"t":15.39,"v":0.7},{"t":15.52,"v":0.689},{"t":15.66,"v":0.721},{"t":15.79,"v":0.732},{"t":15.93,"v":0.711},{"t":16.06,"v":0.689},{"t":16.2,"v":0.743},{"t":16.33,"v":0.721},{"t":16.46,"v":0.7},{"t":16.6,"v":0.689},{"t":16.73,"v":0.656},{"t":16.87,"v":0.678},{"t":17,"v":0.721},{"t":17.14,"v":0.765},{"t":17.27,"v":0.776},{"t":17.41,"v":0.754},{"t":17.54,"v":0.732},{"t":17.67,"v":0.754},{"t":17.81,"v":0.721},{"t":17.94,"v":0.776},{"t":18.08,"v":0.765},{"t":18.21,"v":0.743},{"t":18.35,"v":0.776},{"t":18.48,"v":0.798},{"t":18.62,"v":0.754},{"t":18.75,"v":0.721},{"t":18.88,"v":0.7},{"t":19.02,"v":0.711},{"t":19.15,"v":0.732},{"t":19.29,"v":0.743},{"t":19.42,"v":0.787},{"t":19.56,"v":0.809},{"t":19.69,"v":0.732},{"t":19.83,"v":0.7},{"t":20,"v":0.721}],
"fRr":[{"t":0,"v":0.776},{"t":0.07,"v":0.765},{"t":0.13,"v":0.689},{"t":0.27,"v":0.634},{"t":0.4,"v":0.623},{"t":0.54,"v":0.612},{"t":0.67,"v":0.579},{"t":0.81,"v":0.601},{"t":0.94,"v":0.645},{"t":1.08,"v":0.689},{"t":1.21,"v":0.656},{"t":1.34,"v":0.634},{"t":1.48,"v":0.579},{"t":1.61,"v":0.634},{"t":1.75,"v":0.721},{"t":1.88,"v":0.645},{"t":2.02,"v":0.689},{"t":2.15,"v":0.721},{"t":2.28,"v":0.754},{"t":2.42,"v":0.776},{"t":2.55,"v":0.798},{"t":2.69,"v":0.776},{"t":2.82,"v":0.754},{"t":2.96,"v":0.732},{"t":3.09,"v":0.7},{"t":3.23,"v":0.678},{"t":3.36,"v":0.689},{"t":3.49,"v":0.678},{"t":3.63,"v":0.7},{"t":3.76,"v":0.689},{"t":3.9,"v":0.667},{"t":4.03,"v":0.656},{"t":4.17,"v":0.711},{"t":4.3,"v":0.721},{"t":4.44,"v":0.656},{"t":4.5,"v":0.568},{"t":4.57,"v":0.59},{"t":4.7,"v":0.634},{"t":4.84,"v":0.667},{"t":4.97,"v":0.689},{"t":5.11,"v":0.656},{"t":5.24,"v":0.678},{"t":5.38,"v":0.667},{"t":5.51,"v":0.645},{"t":5.65,"v":0.667},{"t":5.78,"v":0.678},{"t":5.91,"v":0.7},{"t":6.05,"v":0.721},{"t":6.18,"v":0.656},{"t":6.32,"v":0.612},{"t":6.45,"v":0.557},{"t":6.59,"v":0.623},{"t":6.72,"v":0.689},{"t":6.85,"v":0.612},{"t":6.99,"v":0.634},{"t":7.12,"v":0.678},{"t":7.26,"v":0.689},{"t":7.39,"v":0.711},{"t":7.53,"v":0.721},{"t":7.66,"v":0.743},{"t":7.8,"v":0.776},{"t":7.93,"v":0.809},{"t":8.06,"v":0.765},{"t":8.2,"v":0.711},{"t":8.33,"v":0.689},{"t":8.47,"v":0.721},{"t":8.6,"v":0.732},{"t":8.74,"v":0.689},{"t":8.87,"v":0.678},{"t":9.01,"v":0.711},{"t":9.14,"v":0.721},{"t":9.27,"v":0.711},{"t":9.41,"v":0.656},{"t":9.54,"v":0.601},{"t":9.68,"v":0.656},{"t":9.81,"v":0.689},{"t":9.95,"v":0.7},{"t":10.08,"v":0.711},{"t":10.28,"v":0.678},{"t":10.42,"v":0.689},{"t":10.55,"v":0.678},{"t":10.69,"v":0.689},{"t":10.82,"v":0.711},{"t":10.95,"v":0.7},{"t":11.09,"v":0.721},{"t":11.22,"v":0.711},{"t":11.36,"v":0.743},{"t":11.49,"v":0.754},{"t":11.63,"v":0.711},{"t":11.76,"v":0.634},{"t":11.9,"v":0.667},{"t":12.03,"v":0.721},{"t":12.16,"v":0.754},{"t":12.3,"v":0.754},{"t":12.43,"v":0.754},{"t":12.57,"v":0.776},{"t":12.7,"v":0.754},{"t":12.84,"v":0.732},{"t":12.97,"v":0.689},{"t":13.1,"v":0.656},{"t":13.24,"v":0.678},{"t":13.37,"v":0.689},{"t":13.51,"v":0.678},{"t":13.64,"v":0.689},{"t":13.78,"v":0.711},{"t":13.91,"v":0.678},{"t":14.05,"v":0.7},{"t":14.18,"v":0.678},{"t":14.31,"v":0.634},{"t":14.45,"v":0.667},{"t":14.58,"v":0.689},{"t":14.72,"v":0.656},{"t":14.85,"v":0.623},{"t":14.99,"v":0.612},{"t":15.12,"v":0.59},{"t":15.26,"v":0.557},{"t":15.32,"v":0.513},{"t":15.39,"v":0.568},{"t":15.52,"v":0.656},{"t":15.66,"v":0.678},{"t":15.79,"v":0.645},{"t":15.93,"v":0.667},{"t":16.06,"v":0.634},{"t":16.2,"v":0.678},{"t":16.33,"v":0.645},{"t":16.46,"v":0.7},{"t":16.6,"v":0.656},{"t":16.73,"v":0.634},{"t":16.87,"v":0.667},{"t":17,"v":0.7},{"t":17.14,"v":0.765},{"t":17.27,"v":0.787},{"t":17.41,"v":0.765},{"t":17.54,"v":0.787},{"t":17.67,"v":0.743},{"t":17.81,"v":0.754},{"t":17.94,"v":0.754},{"t":18.08,"v":0.732},{"t":18.21,"v":0.743},{"t":18.35,"v":0.721},{"t":18.48,"v":0.743},{"t":18.62,"v":0.732},{"t":18.75,"v":0.743},{"t":18.88,"v":0.711},{"t":19.02,"v":0.656},{"t":19.15,"v":0.612},{"t":19.29,"v":0.7},{"t":19.42,"v":0.711},{"t":19.56,"v":0.689},{"t":19.69,"v":0.721},{"t":19.83,"v":0.678},{"t":20,"v":0.59}]
},
"concat":[
  {"width":496,"height":152,"resolve":{"axis":{"y":"independent"}},"layer":[
   {"data":{"name":"cAo"},"mark":"line","encoding":{"x":{"field":"t","type":"quantitative","scale":{"domain":[0,20],"nice":false},"axis":{"values":[0,2,4,6,8,10,12,14,16,18,20],"tickCount":20,"labels":false,"title":null,"grid":true}},"y":{"field":"v","type":"quantitative","scale":{"domain":[3.3,3.9],"nice":false,"zero":false},"axis":{"orient":"left","values":[3.3,3.6,3.9],"tickCount":10,"labelExpr":"'10'","labelPadding":23,"title":"centroid / Hz","titleX":-61,"titleY":76,"titleAngle":-90,"titleAlign":"center","titleBaseline":"middle","grid":true}},"color":{"datum":"Anechoic original","type":"nominal","scale":{"domain":["Anechoic original","Anechoic resynthesis"],"range":["#0072BD","#D95319"]},"legend":null}}},
   {"data":{"name":"cAr"},"mark":"line","encoding":{"x":{"field":"t","type":"quantitative"},"y":{"field":"v","type":"quantitative","axis":{"orient":"left","values":[3.3,3.6,3.9],"tickCount":10,"labelExpr":"datum.value > 3.85 ? '3.9' : (datum.value > 3.55 ? '3.6' : '3.3')","labelFontSize":12,"labelPadding":8,"labelOffset":-6,"domain":false,"grid":false,"title":null}},"color":{"datum":"Anechoic resynthesis","type":"nominal"}}}
  ]},
  {"width":496,"height":152,"layer":[
   {"data":{"name":"cRo"},"mark":"line","encoding":{"x":{"field":"t","type":"quantitative","scale":{"domain":[0,20],"nice":false},"axis":{"values":[0,2,4,6,8,10,12,14,16,18,20],"tickCount":20,"labels":false,"title":null,"grid":true}},"y":{"field":"v","type":"quantitative","scale":{"domain":[3.3,3.9],"nice":false,"zero":false},"axis":{"values":[3.3,3.6,3.9],"tickCount":10,"labels":false,"title":null,"grid":true}},"color":{"datum":"Reverberant original","type":"nominal","scale":{"domain":["Reverberant original","Reverberant resynthesis"],"range":["#EDB120","#7E2F8E"]},"legend":null}}},
   {"data":{"name":"cRr"},"mark":"line","encoding":{"x":{"field":"t","type":"quantitative"},"y":{"field":"v","type":"quantitative"},"color":{"datum":"Reverberant resynthesis","type":"nominal"}}}
  ]},
  {"width":496,"height":152,"resolve":{"axis":{"y":"independent"}},"layer":[
   {"data":{"name":"sAo"},"mark":"line","encoding":{"x":{"field":"t","type":"quantitative","scale":{"domain":[0,20],"nice":false},"axis":{"values":[0,2,4,6,8,10,12,14,16,18,20],"tickCount":20,"labels":false,"title":null,"grid":true}},"y":{"field":"v","type":"quantitative","scale":{"domain":[3.3,3.9],"nice":false,"zero":false},"axis":{"orient":"left","values":[3.3,3.6,3.9],"tickCount":10,"labelExpr":"'10'","labelPadding":23,"title":"spread / Hz","titleX":-61,"titleY":76,"titleAngle":-90,"titleAlign":"center","titleBaseline":"middle","grid":true}},"color":{"datum":"Anechoic original","type":"nominal","scale":{"domain":["Anechoic original","Anechoic resynthesis"],"range":["#0072BD","#D95319"]},"legend":null}}},
   {"data":{"name":"sAr"},"mark":"line","encoding":{"x":{"field":"t","type":"quantitative"},"y":{"field":"v","type":"quantitative","axis":{"orient":"left","values":[3.3,3.6,3.9],"tickCount":10,"labelExpr":"datum.value > 3.85 ? '3.9' : (datum.value > 3.55 ? '3.6' : '3.3')","labelFontSize":12,"labelPadding":8,"labelOffset":-6,"domain":false,"grid":false,"title":null}},"color":{"datum":"Anechoic resynthesis","type":"nominal"}}}
  ]},
  {"width":496,"height":152,"layer":[
   {"data":{"name":"sRo"},"mark":"line","encoding":{"x":{"field":"t","type":"quantitative","scale":{"domain":[0,20],"nice":false},"axis":{"values":[0,2,4,6,8,10,12,14,16,18,20],"tickCount":20,"labels":false,"title":null,"grid":true}},"y":{"field":"v","type":"quantitative","scale":{"domain":[3.3,3.9],"nice":false,"zero":false},"axis":{"values":[3.3,3.6,3.9],"tickCount":10,"labels":false,"title":null,"grid":true}},"color":{"datum":"Reverberant original","type":"nominal","scale":{"domain":["Reverberant original","Reverberant resynthesis"],"range":["#EDB120","#7E2F8E"]},"legend":null}}},
   {"data":{"name":"sRr"},"mark":"line","encoding":{"x":{"field":"t","type":"quantitative"},"y":{"field":"v","type":"quantitative"},"color":{"datum":"Reverberant resynthesis","type":"nominal"}}}
  ]},
  {"width":496,"height":152,"layer":[
   {"data":{"name":"fAo"},"mark":"line","encoding":{"x":{"field":"t","type":"quantitative","scale":{"domain":[0,20],"nice":false},"axis":{"values":[0,5,10,15,20],"tickCount":20,"title":"t/s","titlePadding":6,"grid":true,"labelPadding":8}},"y":{"field":"v","type":"quantitative","scale":{"domain":[0,1],"nice":false},"axis":{"values":[0,0.25,0.5,0.75,1],"tickCount":10,"labelExpr":"'' + datum.value","title":"flatness","titleX":-56,"titleY":76,"titleAngle":-90,"titleAlign":"center","titleBaseline":"middle","grid":true}},"color":{"datum":"Anechoic original","type":"nominal","scale":{"domain":["Anechoic original","Anechoic resynthesis"],"range":["#0072BD","#D95319"]},"legend":{"orient":"none","legendX":247,"legendY":84,"title":null,"strokeColor":"#000","fillColor":"#fff","padding":9,"symbolType":"M-2.6,0H2.6","symbolSize":256,"symbolStrokeWidth":3,"symbolOffset":13,"labelOffset":22,"labelFontSize":18,"labelFont":"Liberation Serif","labelColor":"#000","labelLimit":400,"rowPadding":8,"cornerRadius":0}}}},
   {"data":{"name":"fAr"},"mark":"line","encoding":{"x":{"field":"t","type":"quantitative"},"y":{"field":"v","type":"quantitative"},"color":{"datum":"Anechoic resynthesis","type":"nominal"}}}
  ]},
  {"width":496,"height":152,"layer":[
   {"data":{"name":"fRo"},"mark":"line","encoding":{"x":{"field":"t","type":"quantitative","scale":{"domain":[0,20],"nice":false},"axis":{"values":[0,5,10,15,20],"tickCount":20,"title":"t/s","titlePadding":6,"grid":true,"labelPadding":8}},"y":{"field":"v","type":"quantitative","scale":{"domain":[0,1],"nice":false},"axis":{"values":[0,0.25,0.5,0.75,1],"tickCount":10,"labels":false,"title":null,"grid":true}},"color":{"datum":"Reverberant original","type":"nominal","scale":{"domain":["Reverberant original","Reverberant resynthesis"],"range":["#EDB120","#7E2F8E"]},"legend":{"orient":"none","legendX":228,"legendY":84,"title":null,"strokeColor":"#000","fillColor":"#fff","padding":9,"symbolType":"M-2.6,0H2.6","symbolSize":256,"symbolStrokeWidth":3,"symbolOffset":13,"labelOffset":22,"labelFontSize":18,"labelFont":"Liberation Serif","labelColor":"#000","labelLimit":400,"rowPadding":8,"cornerRadius":0}}}},
   {"data":{"name":"fRr"},"mark":"line","encoding":{"x":{"field":"t","type":"quantitative"},"y":{"field":"v","type":"quantitative"},"color":{"datum":"Reverberant resynthesis","type":"nominal"}}}
  ]}
]
}
